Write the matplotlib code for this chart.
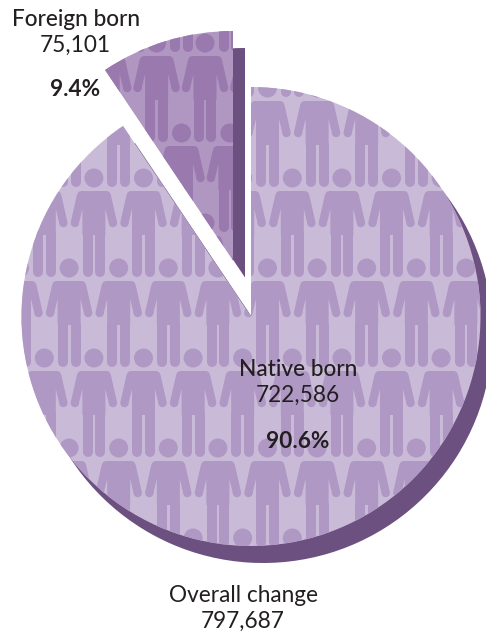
import matplotlib
matplotlib.use("Agg")
import matplotlib.pyplot as plt
from matplotlib.patches import Circle, Polygon
from matplotlib.lines import Line2D

# Data
labels = ["Native born", "Foreign born"]
counts = [722586, 75101]
count_labels = ["722,586", "75,101"]
shares = ["90.6%", "9.4%"]
total_label = "Overall change"
total_value = "797,687"

W, H = 486, 632
BG_NATIVE = "#c9bbd8"
ICON_NATIVE = "#b098c4"
BG_FOREIGN = "#b097c1"
ICON_FOREIGN = "#9a79ae"
SHADOW = "#6b5080"
INK = "#231f20"
FONT = ["Lato", "DejaVu Sans"]

plt.rcParams["font.family"] = FONT
fig = plt.figure(figsize=(W / 100, H / 100), dpi=100)
ax = fig.add_axes([0, 0, 1, 1])
ax.set_xlim(0, W)
ax.set_ylim(H, 0)
ax.axis("off")

R = 229.5
NATIVE_C = (251, 316.5)
FOREIGN_C = (233, 260.5)
SHADOW_OFF = (12, 17)


def wedge(center, color, idx, z):
    # y axis is inverted here, so the pie is flipped: angles are mirrored
    wedges, _ = ax.pie(counts, center=center, radius=R, startangle=-90,
                       counterclock=True, colors=[color, color], frame=True,
                       wedgeprops=dict(linewidth=0, antialiased=True))
    for i, w in enumerate(wedges):
        if i == idx:
            w.set_zorder(z)
        else:
            w.remove()
    return wedges[idx]


BODY = [(-13, 13), (-15.5, 14), (-17, 17), (-23, 43.5), (-15, 45.5), (-11.5, 31), (-11.5, 60),
        (11.5, 60), (11.5, 31), (15, 45.5), (23, 43.5), (17, 17), (15.5, 14), (13, 13)]


def person(x, y, color, clip, z):
    """One figure, with (x, y) the centre of the head in pixels."""
    arts = [Circle((x, y), 9.5, fc=color, lw=0),
            Polygon([(x + px, y + py) for px, py in BODY], closed=True, fc=color, lw=0),
            Circle((x - 19, y + 45), 4.2, fc=color, lw=0),
            Circle((x + 19, y + 45), 4.2, fc=color, lw=0),
            # white-free crotch gap: two legs with round feet
            Line2D([x - 6.4, x - 6.4], [y + 57, y + 94], color=color, lw=10 * 0.72, solid_capstyle="round"),
            Line2D([x + 6.4, x + 6.4], [y + 57, y + 94], color=color, lw=10 * 0.72, solid_capstyle="round")]
    # the polygon stops at the crotch
    arts[1].set_xy([(x + px, y + (57 if py == 60 else py)) for px, py in BODY])
    for a in arts:
        if isinstance(a, Line2D):
            ax.add_line(a)
        else:
            ax.add_patch(a)
        a.set_zorder(z)
        a.set_clip_path(clip)


def tile(x0, y0, dx, dy, stagger, color, clip, z):
    for r in range(-6, 8):
        y = y0 + r * dy
        off = stagger if r % 2 else 0
        for c in range(-8, 12):
            person(x0 + c * dx + off, y, color, clip, z)


# shadows
wedge((NATIVE_C[0] + SHADOW_OFF[0], NATIVE_C[1] + SHADOW_OFF[1]), SHADOW, 0, 1)
wedge((FOREIGN_C[0] + SHADOW_OFF[0], FOREIGN_C[1] + SHADOW_OFF[1]), SHADOW, 1, 1)

# slices with pictogram fill
nat = wedge(NATIVE_C, BG_NATIVE, 0, 2)
fore = wedge(FOREIGN_C, BG_FOREIGN, 1, 2)
ax.set_xlim(0, W)
ax.set_ylim(H, 0)
ax.set_aspect("auto")
ax.axis("off")

tile(267.5, 88, 49.6, 90, 24.8, ICON_NATIVE, nat, 3)
tile(205, 43, 48.4, 90, -23.5, ICON_FOREIGN, fore, 3)

# labels
fs = 16.3
def t(x, y, s, **kw):
    ax.text(x, y, s, ha="center", va="center", color=INK, fontsize=fs, zorder=5, **kw)

t(76, 19, labels[1], fontweight="medium")
t(75, 45, count_labels[1])
t(75, 90, shares[1], fontweight="bold")
t(298, 369, labels[0], fontweight="medium")
t(298, 395, count_labels[0])
t(298, 441, shares[0], fontweight="bold")
t(243, 595, total_label)
t(243, 621, total_value)

fig.savefig("out.png", dpi=100, facecolor="white")
